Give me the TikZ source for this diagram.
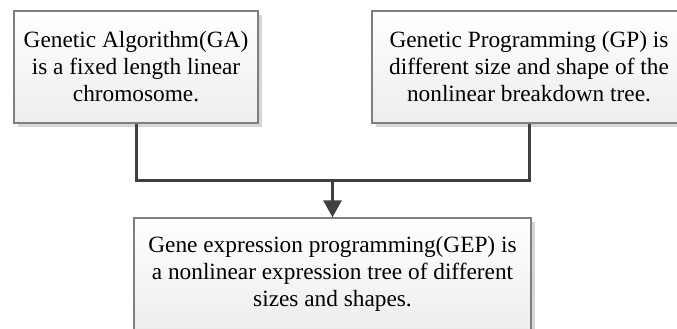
\documentclass[tikz,border=0pt]{standalone}
\usepackage{fontspec}
\setmainfont{Liberation Serif}
\usetikzlibrary{arrows.meta,shadows}
\definecolor{linegray}{HTML}{404040}
\definecolor{edgegray}{HTML}{7F7F7F}

\begin{document}
\begin{tikzpicture}[x=1pt,y=-1pt,
  box/.style={draw=edgegray,line width=1.3pt,top color=white,bottom color=black!7,
    drop shadow={shadow xshift=4pt,shadow yshift=-4pt,fill=black!16,opacity=1},
    minimum height=112pt,inner sep=0pt,align=center,
    font=\fontsize{23.3}{27}\selectfont},
  conn/.style={draw=linegray,line width=3pt}]
\useasboundingbox (0,0) rectangle (677,329);
\node[box,minimum width=244pt] (ga) at (136,67)
  {Genetic Algorithm(GA)\\is a fixed length linear\\chromosome.};
\node[box,minimum width=314pt] (gp) at (529,67)
  {Genetic Programming (GP) is\\different size and shape of the\\nonlinear breakdown tree.};
\node[box,minimum width=397pt] (gep) at (332.5,274)
  {Gene expression programming(GEP) is\\a nonlinear expression tree of different\\sizes and shapes.};
\coordinate (join) at (gep.north |- 0,180);
\draw[conn] (ga.south) |- (join) -| (gp.south);
\draw[conn,-{Triangle[width=18pt,length=17pt]}] (join) -- (gep.north);
\end{tikzpicture}
\end{document}
